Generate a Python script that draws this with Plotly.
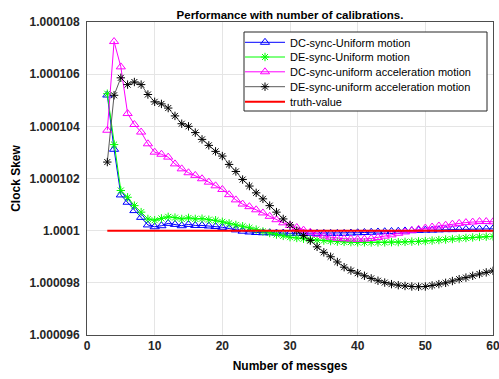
import plotly.graph_objects as go

x_msgs = list(range(3, 61))

dc_uniform = [
    1.0001052, 1.00010312, 1.00010137, 1.00010109, 1.00010077, 1.00010051, 1.00010022, 1.00010015,
    1.00010019, 1.00010028, 1.00010024, 1.00010019, 1.00010024, 1.0001002, 1.0001002, 1.00010018, 1.00010016, 1.00010013,
    1.00010008, 1.00010003, 1.00009998, 1.00009995, 1.00009993, 1.00009992, 1.00009992, 1.00009991, 1.00009991, 1.0000999,
    1.0000999, 1.0000999, 1.0000999, 1.0000999, 1.0000999, 1.0000999, 1.0000999, 1.0000999, 1.00009991, 1.00009992,
    1.00009993, 1.00009994, 1.00009995, 1.00009996, 1.00009997, 1.00009998, 1.00009999, 1.0001, 1.00010001, 1.00010002,
    1.00010002, 1.00010003, 1.00010004, 1.00010004, 1.00010005, 1.00010005, 1.00010006, 1.00010006, 1.00010007, 1.00010007,
]

de_uniform = [
    1.00010525, 1.0001033, 1.00010154, 1.00010128, 1.00010096, 1.00010071, 1.00010045, 1.0001004,
    1.00010047, 1.00010053, 1.0001005, 1.00010045, 1.00010049, 1.00010045, 1.00010046, 1.00010042, 1.0001004, 1.00010034,
    1.00010028, 1.00010022, 1.00010017, 1.00010011, 1.00010004, 1.00009997, 1.00009991, 1.00009985, 1.0000998, 1.00009975,
    1.00009972, 1.00009969, 1.00009966, 1.00009964, 1.00009962, 1.0000996, 1.00009958, 1.00009957, 1.00009956, 1.00009955,
    1.00009955, 1.00009955, 1.00009955, 1.00009955, 1.00009956, 1.00009956, 1.00009957, 1.00009958, 1.00009959, 1.0000996,
    1.00009962, 1.00009964, 1.00009966, 1.00009968, 1.0000997, 1.00009972, 1.00009974, 1.00009976, 1.00009977, 1.00009978,
]

dc_accel = [
    1.00010385, 1.00010725, 1.00010628, 1.00010449, 1.00010407, 1.00010378, 1.00010333, 1.00010301,
    1.00010293, 1.00010282, 1.00010256, 1.00010237, 1.00010222, 1.00010212, 1.00010199, 1.00010186, 1.00010172, 1.00010158,
    1.00010138, 1.00010118, 1.00010102, 1.00010092, 1.0001008, 1.00010068, 1.00010055, 1.00010042, 1.0001003, 1.0001002,
    1.00010012, 1.00010002, 1.00009994, 1.00009986, 1.0000998, 1.00009975, 1.00009971, 1.00009969, 1.00009968, 1.00009967,
    1.00009968, 1.0000997, 1.00009974, 1.00009979, 1.00009984, 1.0000999, 1.00009995, 1.0001, 1.00010005, 1.0001001,
    1.00010014, 1.00010018, 1.00010021, 1.00010025, 1.00010028, 1.00010031, 1.00010033, 1.00010035, 1.00010035, 1.00010034,
]

de_accel = [
    1.00010263, 1.00010519, 1.00010586, 1.0001056, 1.0001057, 1.0001056, 1.00010522, 1.00010494,
    1.00010486, 1.0001047, 1.0001044, 1.0001041, 1.000104, 1.00010376, 1.0001035, 1.00010327, 1.00010304, 1.00010286,
    1.00010254, 1.00010227, 1.00010196, 1.00010171, 1.00010145, 1.00010122, 1.00010096, 1.00010071, 1.00010045, 1.00010022,
    1.0001, 1.00009981, 1.00009962, 1.00009938, 1.00009917, 1.000099, 1.0000988, 1.0000986, 1.00009847, 1.00009837,
    1.00009827, 1.00009817, 1.00009808, 1.00009801, 1.00009795, 1.00009791, 1.00009788, 1.00009786, 1.00009785, 1.00009786,
    1.0000979, 1.00009795, 1.000098, 1.00009807, 1.00009814, 1.0000982, 1.00009827, 1.00009834, 1.0000984, 1.00009846,
]

truth_x = [3, 60]
truth_y = [1.0001, 1.0001]

series_names = [
    "DC-sync-Uniform motion",
    "DE-sync-Uniform motion",
    "DC-sync-uniform acceleration motion",
    "DE-sync-uniform acceleration motion",
    "truth-value",
]

y_tickvals = [1.000096, 1.000098, 1.0001, 1.000102, 1.000104, 1.000106, 1.000108]
y_ticktext = ["1.000096", "1.000098", "1.0001", "1.000102", "1.000104", "1.000106", "1.000108"]
x_tickvals = [0, 10, 20, 30, 40, 50, 60]

FONT = "Liberation Sans, Arial, sans-serif"

# layout geometry (pixels)
W, H = 499, 379
ML, MR, MT, MB = 87, 6, 22, 44
PW, PH = W - ML - MR, H - MT - MB


def px_x(p):
    return (p - ML) / PW


def px_y(p):
    return (H - MB - p) / PH


legend_rows_px = [42.3, 57.0, 71.8, 86.7, 101.7]
legend_keys = ["legend", "legend2", "legend3", "legend4", "legend5"]

fig = go.Figure()
fig.add_trace(go.Scatter(
    x=x_msgs, y=dc_uniform, mode="lines+markers", name=series_names[0], legend="legend",
    line=dict(color="#0000ff", width=1),
    marker=dict(symbol="triangle-up-open", size=8, color="#0000ff", line=dict(width=1)),
))
fig.add_trace(go.Scatter(
    x=x_msgs, y=de_uniform, mode="lines+markers", name=series_names[1], legend="legend2",
    line=dict(color="#00ff00", width=1),
    marker=dict(symbol="asterisk-open", size=7, color="#00ff00", line=dict(width=1, color="#00ff00")),
))
fig.add_trace(go.Scatter(
    x=x_msgs, y=dc_accel, mode="lines+markers", name=series_names[2], legend="legend3",
    line=dict(color="#ff00ff", width=1),
    marker=dict(symbol="triangle-up-open", size=8, color="#ff00ff", line=dict(width=1)),
))
fig.add_trace(go.Scatter(
    x=x_msgs, y=de_accel, mode="lines+markers", name=series_names[3], legend="legend4",
    line=dict(color="#5a5a5a", width=1),
    marker=dict(symbol="asterisk-open", size=7, color="#000000", line=dict(width=1, color="#000000")),
))
fig.add_trace(go.Scatter(
    x=truth_x, y=truth_y, mode="lines", name=series_names[4], legend="legend5",
    line=dict(color="#ff0000", width=2),
))

legend_layout = {}
for key, row in zip(legend_keys, legend_rows_px):
    legend_layout[key] = dict(
        x=px_x(240), y=px_y(row), xanchor="left", yanchor="middle",
        bgcolor="rgba(0,0,0,0)", borderwidth=0,
        font=dict(family=FONT, size=11, color="#000000"),
        itemwidth=40,
    )

fig.update_layout(
    width=W, height=H,
    margin=dict(l=ML, r=MR, t=MT, b=MB, autoexpand=False),
    paper_bgcolor="white", plot_bgcolor="white",
    font=dict(family=FONT, size=11, color="#262626"),
    title=dict(text="<b>Performance with number of calibrations.</b>", x=290 / W,
               xanchor="center", y=1 - 14.5 / H, yanchor="middle",
               font=dict(family=FONT, size=11.5, color="#000000")),
    showlegend=True,
    hovermode=False,
    shapes=[dict(type="rect", xref="paper", yref="paper",
                 x0=px_x(244), x1=px_x(487), y0=px_y(111), y1=px_y(32),
                 line=dict(color="#262626", width=1), fillcolor="white", layer="above")],
    xaxis=dict(range=[0, 60], tickvals=x_tickvals, showgrid=True, gridcolor="#e5e5e5",
               showline=True, mirror=True, linecolor="#4d4d4d", linewidth=1, zeroline=False,
               automargin=False, ticklabeloverflow="allow",
               tickfont=dict(family=FONT, size=12, color="#262626", weight="bold"),
               title=dict(text="<b>Number of messges</b>", font=dict(family=FONT, size=12, color="#000000"), standoff=9)),
    yaxis=dict(range=[1.000096, 1.000108], tickvals=y_tickvals, ticktext=y_ticktext,
               showgrid=True, gridcolor="#e5e5e5",
               showline=True, mirror=True, linecolor="#4d4d4d", linewidth=1, zeroline=False,
               automargin=False,
               tickfont=dict(family=FONT, size=12, color="#262626", weight="bold"),
               ticklabelstandoff=4,
               title=dict(text="<b>Clock Skew</b>", font=dict(family=FONT, size=12, color="#000000"), standoff=6)),
    **legend_layout,
)

fig.write_html("out.html", config={"displayModeBar": False},
               post_script="document.body.style.margin='0';document.body.style.overflow='hidden';")
